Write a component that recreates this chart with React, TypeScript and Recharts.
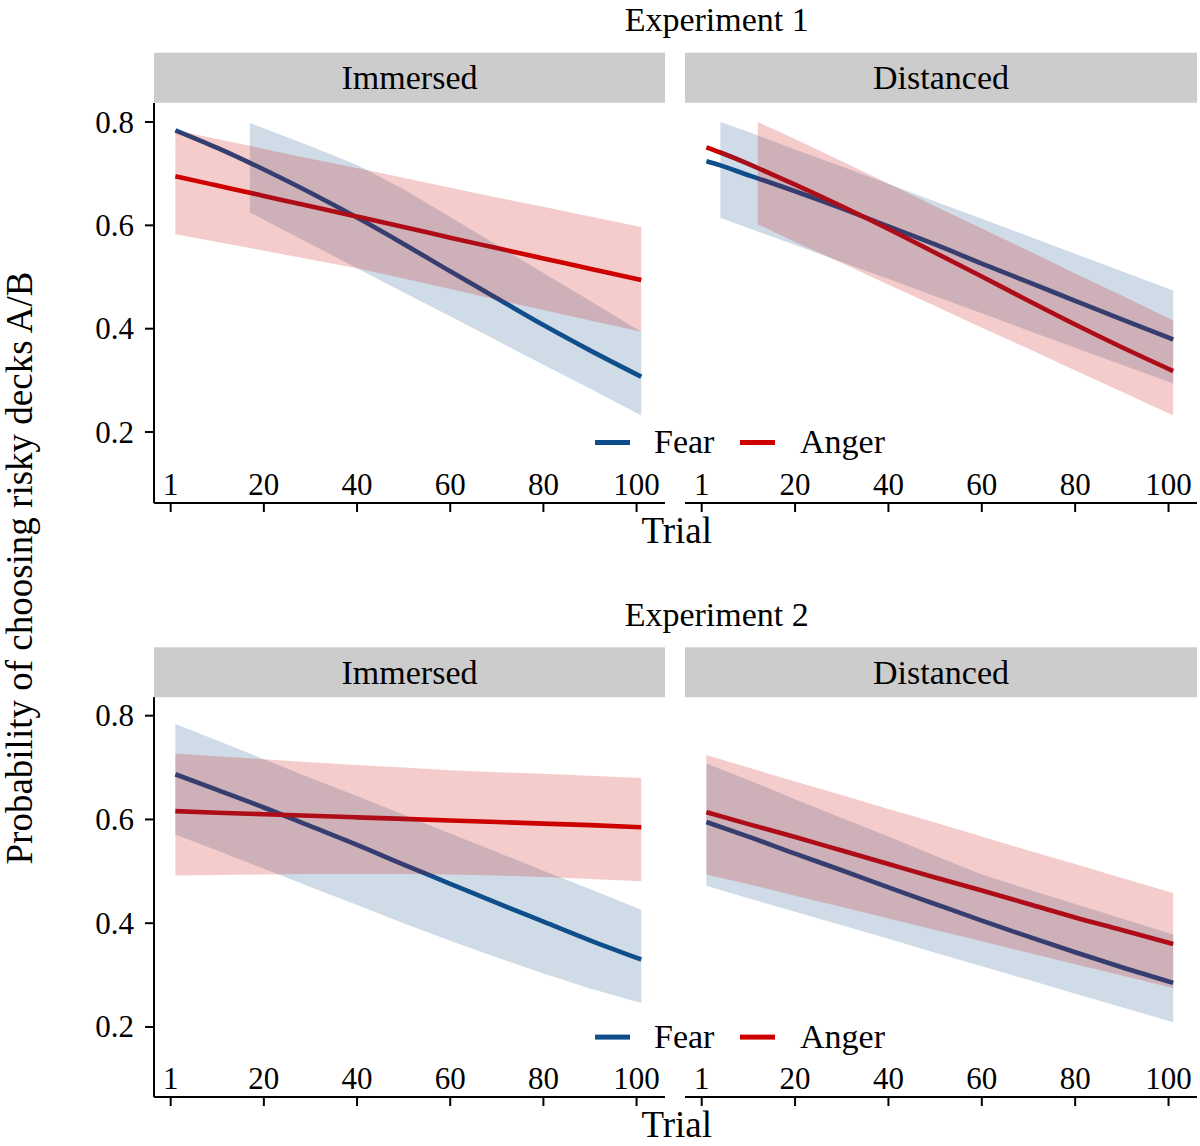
import { Area, ComposedChart, Line, XAxis, YAxis } from "recharts";

const xTicks = [0, 20, 40, 60, 80, 100];
const xTickLabels = ["1", "20", "40", "60", "80", "100"];
const yTicks = [0.2, 0.4, 0.6, 0.8];
const emotions = ["Fear", "Anger"];
const conditions = ["Immersed", "Distanced"];
const experiments = ["Experiment 1", "Experiment 2"];

// Experiment 1 / Immersed
const e1ImmTrials = [1, 10, 17, 20, 30, 40, 50, 60, 70, 80, 90, 101];
const e1ImmFear = [0.784, 0.750, 0.721, 0.708, 0.663, 0.615, 0.564, 0.511, 0.459, 0.407, 0.358, 0.307];
const e1ImmFearLo = [null, null, 0.625, 0.611, 0.564, 0.517, 0.470, 0.424, 0.377, 0.330, 0.284, 0.232];
const e1ImmFearHi = [null, null, 0.798, 0.788, 0.753, 0.717, 0.670, 0.616, 0.562, 0.508, 0.454, 0.394];
const e1ImmAnger = [0.695, 0.677, 0.663, 0.657, 0.637, 0.617, 0.597, 0.576, 0.556, 0.536, 0.516, 0.494];
const e1ImmAngerLo = [0.583, 0.568, 0.556, 0.551, 0.534, 0.517, 0.497, 0.477, 0.456, 0.436, 0.416, 0.394];
const e1ImmAngerHi = [0.784, 0.767, 0.754, 0.748, 0.729, 0.711, 0.692, 0.673, 0.654, 0.636, 0.617, 0.597];

// Experiment 1 / Distanced
const e1DisTrials = [1, 4, 10, 12, 20, 30, 40, 50, 60, 70, 80, 90, 101];
const e1DisFear = [0.724, 0.716, 0.697, 0.691, 0.666, 0.633, 0.598, 0.563, 0.526, 0.490, 0.454, 0.418, 0.379];
const e1DisFearLo = [null, 0.614, 0.595, 0.588, 0.562, 0.529, 0.496, 0.463, 0.430, 0.396, 0.363, 0.330, 0.294];
const e1DisFearHi = [null, 0.800, 0.781, 0.774, 0.747, 0.714, 0.680, 0.646, 0.613, 0.579, 0.545, 0.511, 0.474];
const e1DisAnger = [0.751, 0.741, 0.719, 0.711, 0.679, 0.637, 0.593, 0.547, 0.501, 0.454, 0.408, 0.364, 0.318];
const e1DisAngerLo = [null, null, null, 0.602, 0.568, 0.527, 0.485, 0.444, 0.402, 0.361, 0.319, 0.278, 0.232];
const e1DisAngerHi = [null, null, null, 0.800, 0.767, 0.724, 0.681, 0.637, 0.594, 0.551, 0.507, 0.464, 0.416];

// Experiment 2 / Immersed
const e2ImmTrials = [1, 10, 20, 30, 40, 50, 60, 70, 80, 90, 101];
const e2ImmFear = [0.687, 0.657, 0.623, 0.587, 0.551, 0.513, 0.476, 0.439, 0.403, 0.367, 0.330];
const e2ImmFearLo = [0.571, 0.540, 0.505, 0.470, 0.435, 0.400, 0.366, 0.334, 0.303, 0.274, 0.246];
const e2ImmFearHi = [0.784, 0.752, 0.716, 0.680, 0.645, 0.609, 0.573, 0.537, 0.501, 0.466, 0.426];
const e2ImmAnger = [0.616, 0.613, 0.610, 0.607, 0.604, 0.601, 0.598, 0.595, 0.592, 0.589, 0.585];
const e2ImmAngerLo = [0.492, 0.493, 0.494, 0.495, 0.495, 0.495, 0.494, 0.492, 0.489, 0.485, 0.481];
const e2ImmAngerHi = [0.727, 0.722, 0.716, 0.710, 0.705, 0.700, 0.695, 0.691, 0.688, 0.684, 0.680];

// Experiment 2 / Distanced
const e2DisTrials = [1, 10, 20, 30, 40, 50, 60, 70, 80, 90, 101];
const e2DisFear = [0.595, 0.567, 0.534, 0.502, 0.469, 0.437, 0.405, 0.374, 0.344, 0.315, 0.285];
const e2DisFearLo = [0.472, 0.448, 0.422, 0.396, 0.370, 0.343, 0.317, 0.291, 0.264, 0.238, 0.209];
const e2DisFearHi = [0.708, 0.676, 0.639, 0.603, 0.567, 0.530, 0.494, 0.465, 0.437, 0.409, 0.378];
const e2DisAnger = [0.614, 0.591, 0.566, 0.540, 0.514, 0.488, 0.463, 0.437, 0.411, 0.387, 0.360];
const e2DisAngerLo = [0.494, 0.475, 0.453, 0.431, 0.409, 0.387, 0.365, 0.343, 0.321, 0.299, 0.275];
const e2DisAngerHi = [0.724, 0.700, 0.673, 0.647, 0.620, 0.594, 0.567, 0.540, 0.514, 0.487, 0.458];

const FEAR = "#104E8B";
const ANGER = "#CD0000";
const FONT = "'Liberation Serif', 'Times New Roman', serif";

const COL_LEFT = [154, 685];
const COL_WIDTH = [511, 512];
const ROW_TOP = [102.7, 697.3];
const PLOT_H = 400;
const Y_AXIS_W = 60;
const X_AXIS_H = 12;
const X_DOMAIN = [-3.58, 106.1];
const Y_DOMAIN = [[0.0626, 0.8368], [0.065, 0.836]];
const LINE_W = 4.6;

function XTick({ x, y, payload }: any) {
  const label = xTickLabels[xTicks.indexOf(payload.value)];
  return (
    <text x={x} y={y - 9 - 7.7} textAnchor="middle" fill="#000"
      style={{ fontFamily: FONT, fontSize: 31 }}>
      {label}
    </text>
  );
}

function YTick({ x, y, payload }: any) {
  return (
    <text x={x} y={y + 10.5} textAnchor="end" fill="#000"
      style={{ fontFamily: FONT, fontSize: 31 }}>
      {Number(payload.value).toFixed(1)}
    </text>
  );
}

function Panel({ row, col, trials, fear, fearLo, fearHi, anger, angerLo, angerHi }: any) {
  const rows = trials.map((trial: number, i: number) => ({
    trial,
    fear: fear[i],
    anger: anger[i],
    fearBand: fearLo[i] == null ? null : [fearLo[i], fearHi[i]],
    angerBand: angerLo[i] == null ? null : [angerLo[i], angerHi[i]],
  }));
  const showY = col === 0;
  const yW = showY ? Y_AXIS_W : 0;
  const width = COL_WIDTH[col] + yW;
  const height = PLOT_H + X_AXIS_H;
  const box: any = { position: "absolute", left: COL_LEFT[col] - yW, top: ROW_TOP[row], width, height };
  const axisStyle = { stroke: "#000", strokeWidth: 2 };

  return (
    <>
      {/* lines underneath, so the translucent ribbons tint them */}
      <div style={box}>
        <ComposedChart width={width} height={height} data={rows}
          margin={{ top: 0, right: 0, bottom: X_AXIS_H, left: yW }}>
          <XAxis dataKey="trial" type="number" domain={X_DOMAIN} allowDataOverflow hide />
          <YAxis type="number" domain={Y_DOMAIN[row]} allowDataOverflow hide />
          <Line type="monotone" dataKey="fear" stroke={FEAR} strokeWidth={LINE_W} dot={false}
            activeDot={false} isAnimationActive={false} />
          <Line type="monotone" dataKey="anger" stroke={ANGER} strokeWidth={LINE_W} dot={false}
            activeDot={false} isAnimationActive={false} />
        </ComposedChart>
      </div>
      <div style={box}>
        <ComposedChart width={width} height={height} data={rows}
          margin={{ top: 0, right: 0, bottom: 0, left: 0 }}>
          <XAxis dataKey="trial" type="number" domain={X_DOMAIN} allowDataOverflow
            ticks={xTicks} interval={0} height={X_AXIS_H} tickSize={9} tickMargin={0}
            axisLine={axisStyle} tickLine={axisStyle} tick={(p: any) => <XTick {...p} />} />
          <YAxis type="number" domain={Y_DOMAIN[row]} allowDataOverflow hide={!showY}
            width={Y_AXIS_W} ticks={yTicks} interval={0} tickSize={9} tickMargin={11}
            axisLine={axisStyle} tickLine={axisStyle} tick={(p: any) => <YTick {...p} />} />
          <Area type="linear" dataKey="fearBand" stroke="none" fill={FEAR} fillOpacity={0.2}
            activeDot={false} isAnimationActive={false} />
          <Area type="linear" dataKey="angerBand" stroke="none" fill={ANGER} fillOpacity={0.2}
            activeDot={false} isAnimationActive={false} />
        </ComposedChart>
      </div>
    </>
  );
}

const panels = [
  { row: 0, col: 0, trials: e1ImmTrials, fear: e1ImmFear, fearLo: e1ImmFearLo, fearHi: e1ImmFearHi,
    anger: e1ImmAnger, angerLo: e1ImmAngerLo, angerHi: e1ImmAngerHi },
  { row: 0, col: 1, trials: e1DisTrials, fear: e1DisFear, fearLo: e1DisFearLo, fearHi: e1DisFearHi,
    anger: e1DisAnger, angerLo: e1DisAngerLo, angerHi: e1DisAngerHi },
  { row: 1, col: 0, trials: e2ImmTrials, fear: e2ImmFear, fearLo: e2ImmFearLo, fearHi: e2ImmFearHi,
    anger: e2ImmAnger, angerLo: e2ImmAngerLo, angerHi: e2ImmAngerHi },
  { row: 1, col: 1, trials: e2DisTrials, fear: e2DisFear, fearLo: e2DisFearLo, fearHi: e2DisFearHi,
    anger: e2DisAnger, angerLo: e2DisAngerLo, angerHi: e2DisAngerHi },
];

export default function App() {
  return (
    <div style={{ position: "absolute", left: 0, top: 0, width: 1200, height: 1146, background: "#fff",
      overflow: "hidden", fontFamily: FONT }}>
      {panels.map((p, i) => <Panel key={i} {...p} />)}
      <svg width={1200} height={1146} style={{ position: "absolute", left: 0, top: 0, pointerEvents: "none", fontFamily: FONT }}
        fill="#000">
        {experiments.map((title, r) => (
          <g key={title}>
            <text x={716.7} y={ROW_TOP[r] - 71.5} fontSize={34} textAnchor="middle">{title}</text>
            {conditions.map((c, ci) => (
              <g key={c}>
                <rect x={COL_LEFT[ci]} y={ROW_TOP[r] - 50} width={COL_WIDTH[ci]} height={50} fill="#cccccc" />
                <text x={COL_LEFT[ci] + COL_WIDTH[ci] / 2} y={ROW_TOP[r] - 13.4} fontSize={34}
                  textAnchor="middle">{c}</text>
              </g>
            ))}
            <text x={676.7} y={ROW_TOP[r] + 440} fontSize={37} textAnchor="middle">Trial</text>
            {/* legend */}
            <rect x={595} y={ROW_TOP[r] + 337.3} width={35} height={5} fill={FEAR} />
            <text x={654} y={ROW_TOP[r] + 350.6} fontSize={34}>{emotions[0]}</text>
            <rect x={740} y={ROW_TOP[r] + 337.3} width={35} height={5} fill={ANGER} />
            <text x={800} y={ROW_TOP[r] + 350.6} fontSize={34}>{emotions[1]}</text>
          </g>
        ))}
        <text x={32} y={568} fontSize={37} textAnchor="middle" transform="rotate(-90 32 568)">
          Probability of choosing risky decks A/B
        </text>
      </svg>
    </div>
  );
}
